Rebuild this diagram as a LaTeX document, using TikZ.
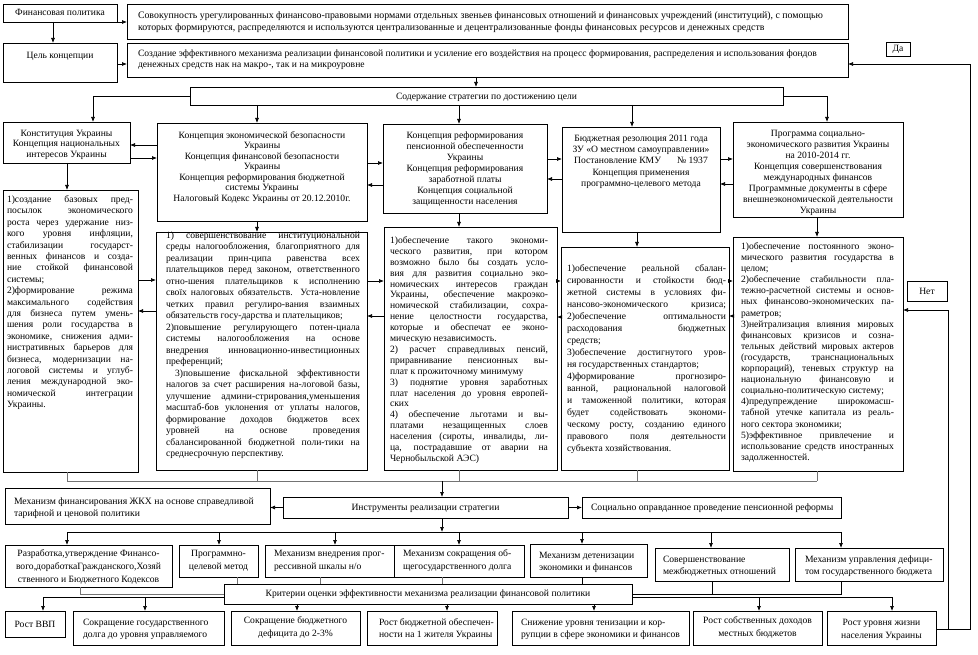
\documentclass[tikz,border=0pt]{standalone}
\usepackage{fontspec}
\setmainfont{Liberation Serif}
\usetikzlibrary{arrows.meta}
\newcommand\JJ[1]{\hbox to\hsize{#1}}
\newcommand\EE[1]{\hbox{#1}}
\newcommand\CC[1]{\hbox to\hsize{\hfil#1\hfil}}
\newcommand\fr[5]{\node[frm, minimum width={(#4)-(#2)}, minimum height={(#5)-(#3)}, anchor=north west] (#1) at (#2,#3) {};}
\newcommand\tb[7][9.6]{\node[tx, anchor=base west] (#2) at (#3,#4) {\vtop{\fontsize{#1}{#6}\selectfont\hsize=#5pt\relax #7}};}
\begin{document}
\begin{tikzpicture}[x=1pt, y=-1pt,
  frm/.style={draw, line width=0.8pt, inner sep=0pt, outer sep=0pt},
  tx/.style={inner sep=0pt, outer sep=0pt, font=\fontsize{9.6}{11}\selectfont},
  arr/.style={-{Latex[length=5pt,width=4pt]}, line width=0.7pt},
  ln/.style={line width=0.7pt},
  gl/.style={line width=0.8pt, draw=black!55}]
\fill[white] (0,0) rectangle (978,655);
\useasboundingbox (0,0) rectangle (978,655);
\foreach \v in {43,53,67,80,93,145,219,237,257,297,320,335,442,447,459,476,582,594,632,637,711,712,759,817,827,841,892,948,970}
  \coordinate (x\v) at (\v,0);
\foreach \v in {64,145,158,159,163,179,184,185,280,281,310,311,316,317,481,532,594,597,629}
  \coordinate (y\v) at (0,\v);
% frames
\fr{fin}{3}{4}{117}{22}
\fr{top}{127}{4}{848}{39}
\fr{goal}{3}{43}{117}{82}
\fr{goal2}{127}{43}{848}{77}
\fr{da}{886}{42}{910}{56}
\fr{cont}{190}{87}{783}{105}
\fr{c1a}{3}{122}{130}{163}
\fr{c2a}{157}{123}{367}{221}
\fr{c3a}{383}{124}{547}{213}
\fr{c4a}{562}{127}{720}{232}
\fr{c5a}{733}{122}{903}{217}
\fr{c1b}{3}{190}{138}{472}
\fr{c2b}{156}{232}{367}{470}
\fr{c3b}{384}{227}{557}{470}
\fr{c4b}{561}{247}{729}{470}
\fr{c5b}{733}{237}{903}{471}
\fr{net}{907}{281}{947}{301}
\fr{zkh}{5}{488}{270}{524}
\fr{instr}{283}{497}{568}{518}
\fr{soc}{582}{497}{841}{518}
\fr{i1}{5}{545}{172}{587}
\fr{i2}{179}{545}{258}{577}
\fr{i3}{265}{545}{394}{577}
\fr{i4}{394}{545}{524}{577}
\fr{i5}{530}{544}{647}{577}
\fr{i6}{655}{548}{789}{581}
\fr{i7}{795}{548}{943}{581}
\fr{crit}{224}{584}{632}{604}
\fr{b1}{5}{611}{65}{637}
\fr{b2}{73}{611}{224}{645}
\fr{b3}{231}{611}{360}{645}
\fr{b4}{367}{611}{497}{645}
\fr{b5}{512}{611}{689}{645}
\fr{b6}{693}{611}{822}{645}
\fr{b7}{827}{611}{936}{645}
% texts
\tb{fint}{3}{16}{114}{11}{\CC{Финансовая политика}}
\tb[9.85]{topt}{138}{18.5}{705}{12}{\EE{Совокупность урегулированных финансово-правовыми нормами отдельных звеньев финансовых отношений и финансовых учреждений (институций), с помощью}\EE{которых формируются, распределяются и используются централизованные и децентрализованные фонды финансовых ресурсов и денежных средств}}
\tb{goalt}{3}{58.5}{114}{11}{\CC{Цель концепции}}
\tb{goal2t}{138}{56.5}{705}{11.5}{\EE{Создание эффективного механизма реализации финансовой политики и усиление его воздействия на процесс формирования, распределения и использования фондов}\EE{денежных средств нак на макро-, так и на микроуровне}}
\tb{dat}{886}{52}{24}{11}{\CC{Да}}
\tb{contt}{190}{99.5}{593}{11}{\CC{Содержание стратегии по достижению цели}}
\tb{nett}{907}{294.5}{40}{11}{\CC{Нет}}
\tb{c1at}{3}{136.5}{127}{10.5}{\CC{Конституция Украины}\CC{Концепция национальных}\CC{интересов Украины}}
\tb{c2at}{157}{138.5}{210}{10.5}{\CC{Концепция экономической безопасности}\CC{Украины}\CC{Концепция финансовой безопасности}\CC{Украины}\CC{Концепция реформирования бюджетной}\CC{системы Украины}\CC{Налоговый Кодекс Украины от 20.12.2010г.}}
\tb{c3at}{383}{138.5}{164}{11}{\CC{Концепция реформирования}\CC{пенсионной обеспеченности}\CC{Украины}\CC{Концепция реформирования}\CC{заработной платы}\CC{Концепция социальной}\CC{защищенности населения}}
\tb{c4at}{562}{141.5}{158}{11.2}{\CC{Бюджетная резолюция 2011 года}\CC{ЗУ «О местном самоуправлении»}\CC{Постановление КМУ\hspace{16pt}№ 1937}\CC{Концепция применения}\CC{программно-целевого метода}}
\tb{c5at}{733}{136.5}{170}{11}{\CC{Программа социально-}\CC{экономического развития Украины}\CC{на 2010-2014 гг.}\CC{Концепция совершенствования}\CC{международных финансов}\CC{Программные документы в сфере}\CC{внешнеэкономической деятельности}\CC{Украины}}
\tb{c1bt}{7}{202.5}{126}{11.4}{%
\JJ{1)создание базовых пред-}
\JJ{посылок экономического}
\JJ{роста через удержание низ-}
\JJ{кого уровня инфляции,}
\JJ{стабилизации государст-}
\JJ{венных финансов и созда-}
\JJ{ние стойкой финансовой}
\EE{системы;}
\JJ{2)формирование режима}
\JJ{максимального содействия}
\JJ{для бизнеса путем умень-}
\JJ{шения роли государства в}
\JJ{экономике, снижения адми-}
\JJ{нистративных барьеров для}
\JJ{бизнеса, модернизации на-}
\JJ{логовой системы и углуб-}
\JJ{ления международной эко-}
\JJ{номической интеграции}
\EE{Украины.}}
\tb{c2bt}{166}{238.5}{194}{11.5}{%
\JJ{1) совершенствование институциональной}
\JJ{среды налогообложения, благоприятного для}
\JJ{реализации прин-ципа равенства всех}
\JJ{плательщиков перед законом, ответственного}
\JJ{отно-шения плательщиков к исполнению}
\JJ{своїх налоговых обязательств. Уста-новление}
\JJ{четких правил регулиро-вания взаимных}
\EE{обязательств госу-дарства и плательщиков;}
\JJ{2)повышение регулирующего потен-циала}
\JJ{системы налогообложения на основе}
\JJ{внедрения инновационно-инвестиционных}
\EE{преференций;}
\JJ{\ 3)повышение фискальной эффективности}
\JJ{налогов за счет расширения на-логовой базы,}
\JJ{улучшение админи-стрирования,уменьшения}
\JJ{масштаб-бов уклонения от уплаты налогов,}
\JJ{формирование доходов бюджетов всех}
\JJ{уровней на основе проведения}
\JJ{сбалансированной бюджетной поли-тики на}
\EE{среднесрочную перспективу.}}
\tb{c3bt}{390}{243.5}{158}{10.9}{%
\JJ{1)обеспечение такого экономи-}
\JJ{ческого развития, при котором}
\JJ{возможно было бы создать усло-}
\JJ{вия для развития социально эко-}
\JJ{номических интересов граждан}
\JJ{Украины, обеспечение макроэко-}
\JJ{номической стабилизации, сохра-}
\JJ{нение целостности государства,}
\JJ{которые и обеспечат ее эконо-}
\EE{мическую независимость.}
\JJ{2) расчет справедливых пенсий,}
\JJ{приравнивание пенсионных вы-}
\EE{плат к прожиточному минимуму}
\JJ{3) поднятие уровня заработных}
\JJ{плат населения до уровня европей-}
\EE{ских}
\JJ{4) обеспечение льготами и вы-}
\JJ{платами незащищенных слоев}
\JJ{населения (сироты, инвалиды, ли-}
\JJ{ца, пострадавшие от аварии на}
\EE{Чернобыльской АЭС)}}
\tb{c4bt}{567}{271.5}{159}{12}{%
\JJ{1)обеспечение реальной сбалан-}
\JJ{сированности и стойкости бюд-}
\JJ{жетной системы в условиях фи-}
\JJ{нансово-экономического кризиса;}
\JJ{2)обеспечение оптимальности}
\JJ{расходования бюджетных}
\EE{средств;}
\JJ{3)обеспечение достигнутого уров-}
\EE{ня государственных стандартов;}
\JJ{4)формирование прогнозиро-}
\JJ{ванной, рациональной налоговой}
\JJ{и таможенной политики, которая}
\JJ{будет содействовать экономи-}
\JJ{ческому росту, созданию единого}
\JJ{правового поля деятельности}
\EE{субъекта хозяйствования.}}
\tb{c5bt}{741}{249.5}{153}{11.1}{%
\JJ{1)обеспечение постоянного эконо-}
\JJ{мического развития государства в}
\EE{целом;}
\JJ{2)обеспечение стабильности пла-}
\JJ{тежно-расчетной системы и основ-}
\JJ{ных финансово-экономических па-}
\EE{раметров;}
\JJ{3)нейтрализация влияния мировых}
\JJ{финансовых кризисов и созна-}
\JJ{тельных действий мировых актеров}
\JJ{(государств, транснациональных}
\JJ{корпораций), теневых структур на}
\JJ{национальную финансовую и}
\EE{социально-политическую систему;}
\JJ{4)предупреждение широкомасш-}
\JJ{табной утечке капитала из реаль-}
\EE{ного сектора экономики;}
\JJ{5)эффективное привлечение и}
\JJ{использование средств иностранных}
\EE{задолженностей.}}
\tb[9.7]{zkht}{14}{504.5}{255}{11.5}{\EE{Механизм финансирования ЖКХ на основе справедливой}\EE{тарифной и ценовой политики}}
\tb{instrt}{283}{510.5}{285}{11}{\CC{Инструменты реализации стратегии}}
\tb[9.7]{soct}{591}{510.5}{250}{11}{\EE{Социально оправданное проведение пенсионной реформы}}
\tb{i1t}{5}{556.5}{167}{13}{\CC{Разработка,утверждение Финансо-}\CC{вого,доработкаГражданского,Хозяй}\CC{ственного и Бюджетного Кодексов}}
\tb{i2t}{179}{556.5}{79}{13}{\CC{Программно-}\CC{целевой метод}}
\tb{i3t}{274}{556.5}{120}{13}{\EE{Механизм внедрения прог-}\EE{рессивной шкалы н/о}}
\tb{i4t}{403}{556.5}{121}{13}{\EE{Механизм сокращения об-}\EE{щегосударственного долга}}
\tb{i5t}{539}{558.5}{108}{12}{\EE{Механизм детенизации}\EE{экономики и финансов}}
\tb{i6t}{663}{562.5}{126}{12}{\EE{Совершенствование}\EE{межбюджетных отношений}}
\tb{i7t}{805}{562.5}{138}{12}{\EE{Механизм управления дефици-}\EE{том государственного бюджета}}
\tb{critt}{224}{596.5}{408}{11}{\CC{Критерии оценки эффективности механизма реализации финансовой политики}}
\tb{b1t}{5}{627.5}{60}{11}{\CC{Рост ВВП}}
\tb{b2t}{83}{625.5}{141}{12}{\EE{Сокращение государственного}\EE{долга до уровня управляемого}}
\tb{b3t}{231}{623.5}{129}{13}{\CC{Сокращение бюджетного}\CC{дефицита до 2-3\%}}
\tb{b4t}{379}{625.5}{118}{12}{\EE{Рост бюджетной обеспечен-}\EE{ности на 1 жителя Украины}}
\tb{b5t}{521}{625.5}{168}{12}{\EE{Снижение уровня тенизации и кор-}\EE{рупции в сфере экономики и финансов}}
\tb{b6t}{693}{623.5}{129}{13}{\CC{Рост собственных доходов}\CC{местных бюджетов}}
\tb{b7t}{827}{625.5}{109}{13}{\CC{Рост уровня жизни}\CC{населения Украины}}
% connectors top
\draw[arr] (fin.south east) -- (fin.south east -| top.west);
\draw[arr] (fin.south -| x53) -- (goal.north -| x53);
\draw[arr] (goal.east |- y64) -- (goal2.west |- y64);
\draw[arr] (goal2.south -| x476) -- (cont.north -| x476);
\draw[arr] (cont.west) -| (x93 |- c1a.north);
\draw[arr] (cont.south -| x257) -- (c2a.north -| x257);
\draw[arr] (cont.south -| x459) -- (c3a.north -| x459);
\draw[arr] (cont.south -| x632) -- (c4a.north -| x632);
\draw[arr] (cont.east) -| (x827 |- c5a.north);
% row 1
\draw[arr] (c2a.west |- y145) -- (c1a.east |- y145);
\draw[arr] (c1a.east |- y158) -- (c2a.west |- y158);
\draw[arr] (c2a.east |- y163) -- (c3a.west |- y163);
\draw[arr] (c3a.west |- y185) -- (c2a.east |- y185);
\draw[arr] (c3a.east |- y159) -- (c4a.west |- y159);
\draw[arr] (c4a.west |- y179) -- (c3a.east |- y179);
\draw[arr] (c4a.east |- y159) -- (c5a.west |- y159);
\draw[arr] (c5a.west |- y184) -- (c4a.east |- y184);
\draw[arr] (c1a.south -| x67) -- (c1b.north -| x67);
\draw[arr] (c2a.south -| x257) -- (c2b.north -| x257);
\draw[arr] (c3a.south -| x459) -- (c3b.north -| x459);
\draw[arr] (c4a.south -| x637) -- (c4b.north -| x637);
\draw[arr] (c5a.south -| x817) -- (c5b.north -| x817);
% row 2
\draw[arr] (c1b.east |- y280) -- (c2b.west |- y280);
\draw[arr] (c2b.west |- y311) -- (c1b.east |- y311);
\draw[arr] (c2b.east |- y281) -- (c3b.west |- y281);
\draw[arr] (c3b.west |- y316) -- (c2b.east |- y316);
\draw[arr] (c3b.east |- y281) -- (c4b.west |- y281);
\draw[arr] (c4b.west |- y317) -- (c3b.east |- y317);
\draw[arr] (c4b.east |- y281) -- (c5b.west |- y281);
\draw[arr] (c5b.west |- y316) -- (c4b.east |- y316);
% bus to instruments
\draw[gl] (c1b.south -| x67) -- (x67 |- y481) -- (x817 |- y481);
\draw[gl] (c2b.south -| x257) -- (x257 |- y481);
\draw[gl] (c3b.south -| x459) -- (x459 |- y481);
\draw[gl] (c4b.south -| x637) -- (x637 |- y481);
\draw[gl] (c5b.south -| x817) -- (x817 |- y481);
\draw[arr] (x442 |- y481) -- (instr.north -| x442);
\draw[arr] (instr.west) -- (zkh.east |- instr.west);
\draw[arr] (instr.east) -- (soc.west);
\draw[arr] (instr.south -| x442) -- (x442 |- y532);
\draw[ln] (x67 |- y532) -- (x841 |- y532);
\foreach \a/\b in {x67/i1, x219/i2, x335/i3, x459/i4, x582/i5, x711/i6, x841/i7}
  \draw[arr] (\a |- y532) -- (\b.north -| \a);
% instruments to criteria
\draw[gl] (i1.south -| x80) -- (x80 |- y594) -- (crit.west |- y594);
\draw[gl] (i2.south -| x237) -- (crit.north -| x237);
\draw[gl] (i3.south -| x320) -- (crit.north -| x320);
\draw[gl] (i4.south -| x442) -- (crit.north -| x442);
\draw[ln] (i5.south -| x582) -- (crit.north -| x582);
\draw[ln] (i6.south -| x712) -- (x712 |- y594) -- (crit.east |- y594);
\draw[ln] (i7.south -| x841) -- (x841 |- y594) -- (x712 |- y594);
% criteria to results
\draw[arr] (crit.west |- y597) -| (x43 |- b1.north);
\draw[arr] (x145 |- y597) -- (x145 |- b2.north);
\draw[arr] (crit.south -| x297) -- (b3.north -| x297);
\draw[arr] (crit.south -| x447) -- (b4.north -| x447);
\draw[arr] (crit.south -| x594) -- (b5.north -| x594);
\draw[arr] (crit.east |- y597) -| (x892 |- b7.north);
\draw[arr] (x759 |- y597) -- (x759 |- b6.north);
% feedback
\draw[arr] (b7.east |- y629) -- (x970 |- y629) -- (x970 |- y64) -- (goal2.east |- y64);
\draw[arr] (x948 |- y629) -- (x948 |- y310) -- (c5b.east |- y310);
\end{tikzpicture}
\end{document}
